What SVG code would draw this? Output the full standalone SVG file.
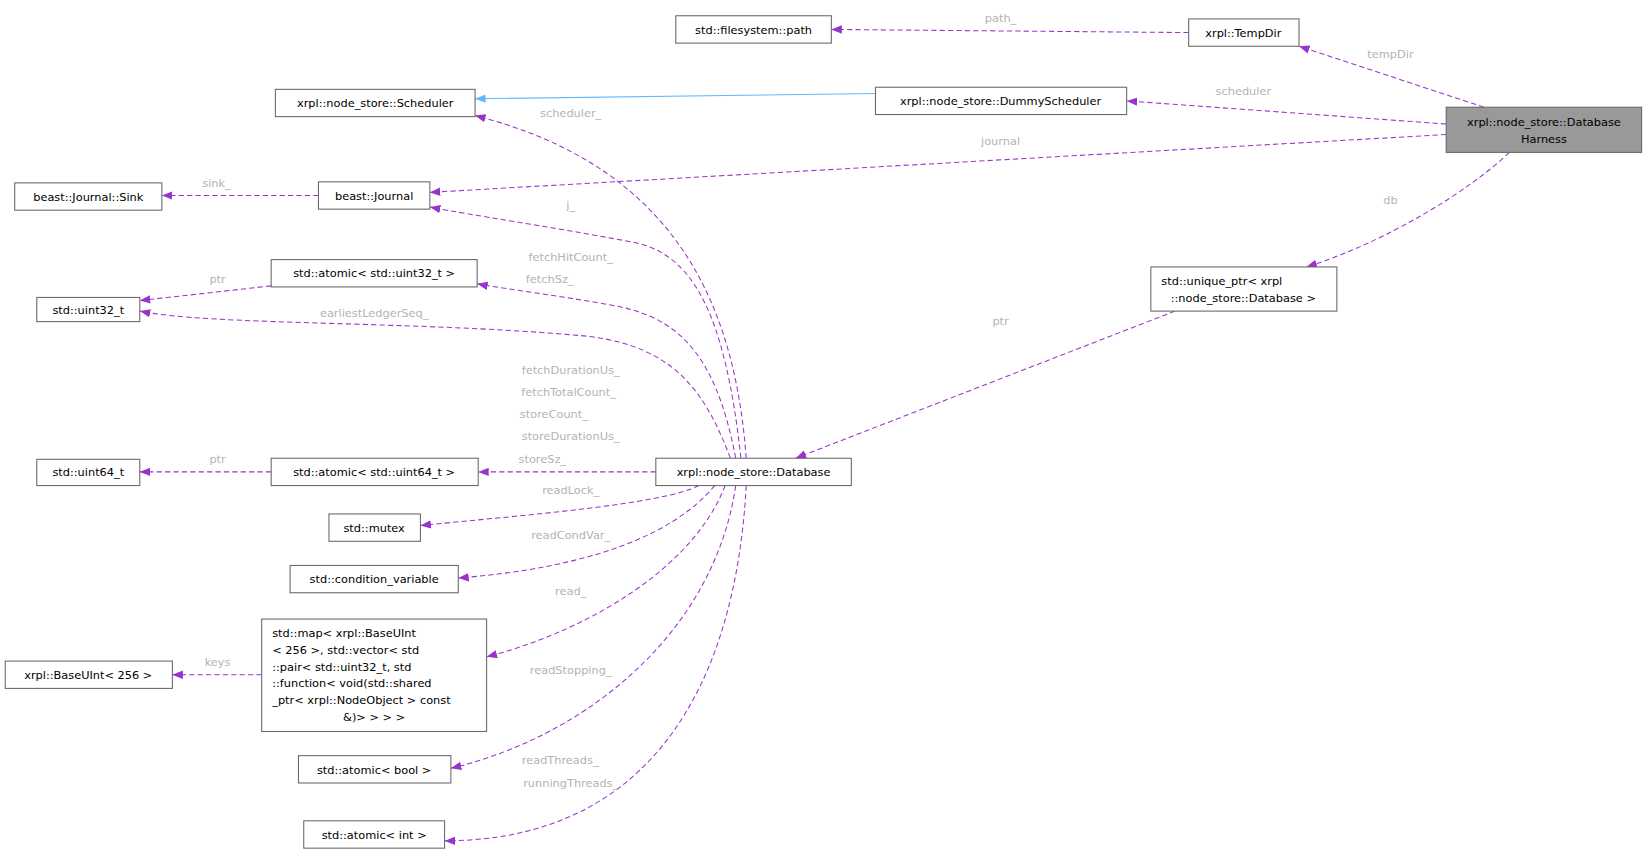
<svg xmlns="http://www.w3.org/2000/svg" width="1648" height="854" viewBox="0 0 1648 854">
<defs>
<marker id="a" viewBox="0 0 10 10" refX="10" refY="5" markerWidth="10" markerHeight="10" markerUnits="userSpaceOnUse" orient="auto"><path d="M0,1 L10,5 L0,9 Z" fill="#9a32cd"/></marker>
<marker id="b" viewBox="0 0 10 10" refX="10" refY="5" markerWidth="10" markerHeight="10" markerUnits="userSpaceOnUse" orient="auto"><path d="M0,1 L10,5 L0,9 Z" fill="#63b8ff"/></marker>
<style>
g rect{fill:#fff;stroke:#666;stroke-width:1}
text{font-family:"DejaVu Sans","Liberation Sans",sans-serif;font-size:10.8px;fill:#000}
.c text{fill:#b3b3b3}
.c path{fill:none;stroke:#9a32cd;stroke-dasharray:5,3;marker-end:url(#a)}
</style>
</defs>
<rect width="1648" height="854" fill="#fff"/>
<g transform="scale(1.051)">
<g class="c" text-anchor="middle">
<path d="M1131,31 L791,28"/><text x="952" y="21">path_</text>
<path d="M1412,102 L1236,44"/><text x="1323" y="55">tempDir</text>
<path d="M833,89 L452,94" style="stroke:#63b8ff;stroke-dasharray:none;marker-end:url(#b)"/>
<path d="M1376,118 L1072,96"/><text x="1183" y="90">scheduler</text>
<path d="M1376,128 L409,183"/><text x="952" y="138">journal</text>
<path d="M1436,145 C1400,180 1320,230 1243,254"/><text x="1323" y="194">db</text>
<path d="M1118,296 L757,436"/><text x="952" y="309">ptr</text>
<path d="M303,186 L154,186"/><text x="206" y="178">sink_</text>
<path d="M258,272 L133,286"/><text x="207" y="269">ptr</text>
<path d="M258,449 L133,449"/><text x="207" y="441">ptr</text>
<path d="M249,642 L164,642"/><text x="207" y="634">keys</text>
<path d="M710,436 C700,300 650,160 452,110"/><text x="543" y="111">scheduler_</text>
<path d="M705,436 C690,300 660,240 600,230 C520,215 450,205 409,197"/><text x="543" y="199">j_</text>
<path d="M700,436 C680,330 640,300 580,290 C530,281 480,275 454,270"/><text x="543" y="248">fetchHitCount_</text><text x="523" y="269">fetchSz_</text>
<path d="M695,436 C670,370 640,330 560,320 C400,305 200,310 133,296"/><text x="356" y="302">earliestLedgerSeq_</text>
<path d="M624,449 L455,449"/>
<text x="543" y="356">fetchDurationUs_</text><text x="541" y="377">fetchTotalCount_</text><text x="527" y="398">storeCount_</text><text x="543" y="419">storeDurationUs_</text><text x="516" y="441">storeSz_</text>
<path d="M665,462 C630,480 500,490 400,500"/><text x="543" y="470">readLock_</text>
<path d="M680,462 C640,510 560,540 436,550"/><text x="543" y="513">readCondVar_</text>
<path d="M690,462 C660,540 560,600 463,625"/><text x="543" y="566">read_</text>
<path d="M700,462 C680,600 560,700 429,731"/><text x="543" y="641">readStopping_</text>
<path d="M710,462 C700,650 620,800 423,800"/><text x="533" y="727">readThreads_</text><text x="543" y="749">runningThreads_</text>
</g>
<g text-anchor="middle">
<g id="n_path"><rect x="643" y="15" width="148" height="26"/><text x="717" y="32">std::filesystem::path</text></g>
<g id="n_tempdir"><rect x="1131" y="18" width="105" height="26"/><text x="1183" y="35">xrpl::TempDir</text></g>
<g id="n_sched"><rect x="262" y="85" width="190" height="26"/><text x="357" y="102">xrpl::node_store::Scheduler</text></g>
<g id="n_dummy"><rect x="833" y="83" width="239" height="26"/><text x="952" y="100">xrpl::node_store::DummyScheduler</text></g>
<g id="n_harness"><rect x="1376" y="102" width="186" height="43" style="fill:#999"/><text x="1469" y="120">xrpl::node_store::Database</text><text x="1469" y="136">Harness</text></g>
<g id="n_sink"><rect x="14" y="174" width="140" height="26"/><text x="84" y="191">beast::Journal::Sink</text></g>
<g id="n_journal"><rect x="303" y="173" width="106" height="26"/><text x="356" y="190">beast::Journal</text></g>
<g id="n_at32"><rect x="258" y="247" width="196" height="26"/><text x="356" y="264">std::atomic&lt; std::uint32_t &gt;</text></g>
<g id="n_u32"><rect x="35" y="283" width="98" height="23"/><text x="84" y="299">std::uint32_t</text></g>
<g id="n_uptr"><rect x="1095" y="254" width="177" height="42"/><text x="1105" y="271" text-anchor="start">std::unique_ptr&lt; xrpl</text><text x="1183" y="287">::node_store::Database &gt;</text></g>
<g id="n_u64"><rect x="35" y="437" width="98" height="25"/><text x="84" y="453">std::uint64_t</text></g>
<g id="n_at64"><rect x="258" y="436" width="197" height="26"/><text x="356" y="453">std::atomic&lt; std::uint64_t &gt;</text></g>
<g id="n_db"><rect x="624" y="436" width="186" height="26"/><text x="717" y="453">xrpl::node_store::Database</text></g>
<g id="n_mutex"><rect x="313" y="489" width="87" height="26"/><text x="356" y="506">std::mutex</text></g>
<g id="n_cv"><rect x="276" y="538" width="160" height="26"/><text x="356" y="555">std::condition_variable</text></g>
<g id="n_map"><rect x="249" y="589" width="214" height="107"/>
<g text-anchor="start"><text x="259" y="606">std::map&lt; xrpl::BaseUInt</text><text x="259" y="622">&lt; 256 &gt;, std::vector&lt; std</text><text x="259" y="638">::pair&lt; std::uint32_t, std</text><text x="259" y="654">::function&lt; void(std::shared</text><text x="259" y="670">_ptr&lt; xrpl::NodeObject &gt; const</text></g><text x="356" y="686">&amp;)&gt; &gt; &gt; &gt;</text></g>
<g id="n_bu"><rect x="5" y="629" width="159" height="26"/><text x="84" y="646">xrpl::BaseUInt&lt; 256 &gt;</text></g>
<g id="n_bool"><rect x="284" y="719" width="145" height="26"/><text x="356" y="736">std::atomic&lt; bool &gt;</text></g>
<g id="n_int"><rect x="289" y="781" width="134" height="26"/><text x="356" y="798">std::atomic&lt; int &gt;</text></g>
</g>
</g>
</svg>
